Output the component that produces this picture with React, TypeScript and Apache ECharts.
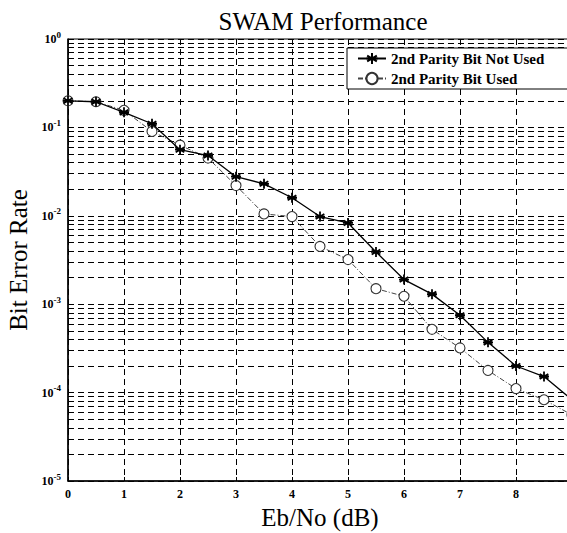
import React, { useEffect, useRef } from "react";
import * as echarts from "echarts";

const ebNo = [0, 0.5, 1, 1.5, 2, 2.5, 3, 3.5, 4, 4.5, 5, 5.5, 6, 6.5, 7, 7.5, 8, 8.5, 9];
const berNotUsed = [0.2, 0.195, 0.148, 0.11, 0.056, 0.048, 0.0277, 0.023, 0.016, 0.0098, 0.0083, 0.0039, 0.0019, 0.0013, 0.00075, 0.00037, 0.0002, 0.000152, 0.000083];
const berUsed = [0.2, 0.195, 0.156, 0.09, 0.063, 0.045, 0.022, 0.0105, 0.0098, 0.0045, 0.0032, 0.0015, 0.00123, 0.00052, 0.00032, 0.000178, 0.000111, 0.000083, 0.000056];
const seriesNames = ["2nd Parity Bit Not Used", "2nd Parity Bit Used"];
const minorGridValues: number[] = [];
for (let e = -5; e < 0; e++) {
  for (let m = 2; m <= 9; m++) minorGridValues.push(m * Math.pow(10, e));
}

const FONT = "'Liberation Serif', 'DejaVu Serif', serif";
const STAR = "path://M0,-5L0,5M-4.33,-2.5L4.33,2.5M-4.33,2.5L4.33,-2.5M-5,0L5,0";

export default function App() {
  const ref = useRef<HTMLDivElement>(null);
  useEffect(() => {
    document.body.style.margin = "0";
    const chart = echarts.init(ref.current!, null, { renderer: "svg" });
    const pair = (ys: number[]) => ebNo.map((x, i) => [x, ys[i]]);
    chart.setOption({
      animation: false,
      backgroundColor: "#fff",
      title: {
        text: "SWAM Performance",
        left: 318,
        textAlign: "center",
        top: 4,
        textStyle: { fontFamily: FONT, fontSize: 25, fontWeight: "normal", color: "#000" },
      },
      legend: {
        left: 347,
        top: 48,
        orient: "vertical",
        itemWidth: 28,
        itemHeight: 14,
        itemGap: 5,
        padding: [3, 40, 3, 10],
        borderColor: "#000",
        borderWidth: 1,
        backgroundColor: "#fff",
        textStyle: { fontFamily: FONT, fontSize: 15, fontWeight: "bold", color: "#000" },
        data: seriesNames,
      },
      grid: {
        left: 68,
        top: 39,
        width: 504,
        height: 442,
        outerBoundsMode: "none",
        containLabel: false,
        show: true,
        borderColor: "#000",
        borderWidth: 1,
        backgroundColor: "transparent",
      },
      xAxis: {
        type: "value",
        min: 0,
        max: 9,
        interval: 1,
        name: "Eb/No (dB)",
        nameLocation: "middle",
        nameGap: 14,
        nameTextStyle: { fontFamily: FONT, fontSize: 25, color: "#000" },
        axisLine: { lineStyle: { color: "#000", width: 1.5 } },
        axisTick: { inside: true, length: 4, lineStyle: { color: "#000" } },
        axisLabel: {
          fontFamily: FONT,
          fontSize: 12,
          fontWeight: "bold",
          color: "#000",
          margin: 7,
          formatter: (v: number) => (v >= 9 || v !== Math.round(v) ? "" : String(v)),
        },
        splitLine: { show: true, lineStyle: { color: "#000", type: [6, 4], width: 1 } },
      },
      yAxis: {
        type: "log",
        logBase: 10,
        min: 1e-5,
        max: 1,
        name: "Bit Error Rate",
        nameLocation: "middle",
        nameGap: 32,
        nameTextStyle: { fontFamily: FONT, fontSize: 25, color: "#000" },
        axisLine: { lineStyle: { color: "#000", width: 1.5 } },
        axisTick: { inside: true, length: 4, lineStyle: { color: "#000" } },
        axisLabel: {
          fontFamily: FONT,
          fontSize: 12,
          fontWeight: "bold",
          color: "#000",
          margin: 7,
          formatter: (v: number) => "10{e|" + Math.round(Math.log10(v)) + "}",
          rich: {
            e: { fontFamily: FONT, fontSize: 9, fontWeight: "bold", color: "#000", padding: [0, 0, 9, 0] },
          },
        },
        splitLine: { show: true, lineStyle: { color: "#000", type: [6, 4], width: 1 } },
      },
      series: [
        {
          name: "minor-grid",
          type: "lines",
          coordinateSystem: "cartesian2d",
          silent: true,
          polyline: false,
          symbol: "none",
          lineStyle: { color: "#000", type: [6, 4], width: 1, opacity: 1 },
          data: minorGridValues.map((v) => ({ coords: [[0, v], [9, v]] })),
          z: 1,
        },
        {
          name: seriesNames[0],
          type: "line",
          data: pair(berNotUsed),
          symbol: STAR,
          symbolSize: 10,
          color: "#000",
          itemStyle: { color: "#000", borderColor: "#000", borderWidth: 1.8 },
          lineStyle: { color: "#000", width: 1.3 },
          z: 5,
        },
        {
          name: seriesNames[1],
          type: "line",
          data: pair(berUsed),
          symbol: "circle",
          symbolSize: 10,
          color: "#444",
          itemStyle: { color: "#fff", borderColor: "#333", borderWidth: 1.1 },
          lineStyle: { color: "#444", width: 1, type: [5, 2, 1, 2] },
          z: 4,
        },
      ],
    });
    return () => chart.dispose();
  }, []);
  return <div ref={ref} style={{ width: 567, height: 533 }} />;
}
